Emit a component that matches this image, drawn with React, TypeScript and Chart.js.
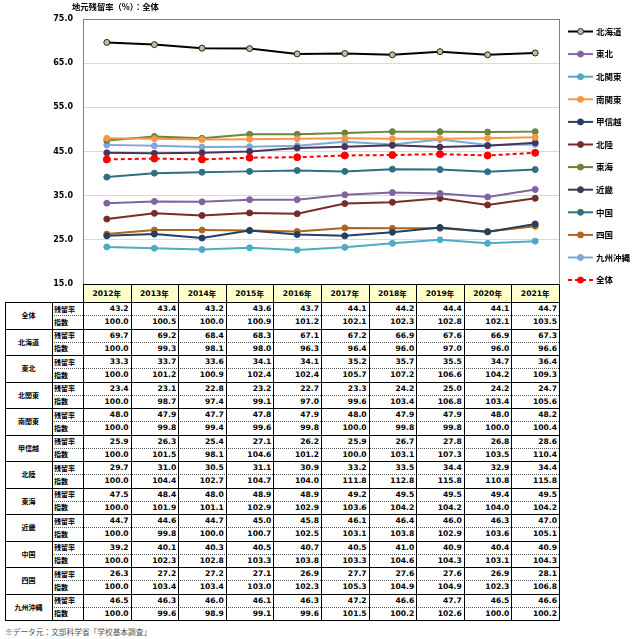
import React, { useEffect, useRef } from "react";
import { Chart, registerables } from "chart.js";
Chart.register(...registerables);

const years = ["2012年", "2013年", "2014年", "2015年", "2016年", "2017年", "2018年", "2019年", "2020年", "2021年"];

const rateAll = [43.2, 43.4, 43.2, 43.6, 43.7, 44.1, 44.2, 44.4, 44.1, 44.7];
const idxAll = [100.0, 100.5, 100.0, 100.9, 101.2, 102.1, 102.3, 102.8, 102.1, 103.5];
const rateHokkaido = [69.7, 69.2, 68.4, 68.3, 67.1, 67.2, 66.9, 67.6, 66.9, 67.3];
const idxHokkaido = [100.0, 99.3, 98.1, 98.0, 96.3, 96.4, 96.0, 97.0, 96.0, 96.6];
const rateTohoku = [33.3, 33.7, 33.6, 34.1, 34.1, 35.2, 35.7, 35.5, 34.7, 36.4];
const idxTohoku = [100.0, 101.2, 100.9, 102.4, 102.4, 105.7, 107.2, 106.6, 104.2, 109.3];
const rateKitaKanto = [23.4, 23.1, 22.8, 23.2, 22.7, 23.3, 24.2, 25.0, 24.2, 24.7];
const idxKitaKanto = [100.0, 98.7, 97.4, 99.1, 97.0, 99.6, 103.4, 106.8, 103.4, 105.6];
const rateMinamiKanto = [48.0, 47.9, 47.7, 47.8, 47.9, 48.0, 47.9, 47.9, 48.0, 48.2];
const idxMinamiKanto = [100.0, 99.8, 99.4, 99.6, 99.8, 100.0, 99.8, 99.8, 100.0, 100.4];
const rateKoshinetsu = [25.9, 26.3, 25.4, 27.1, 26.2, 25.9, 26.7, 27.8, 26.8, 28.6];
const idxKoshinetsu = [100.0, 101.5, 98.1, 104.6, 101.2, 100.0, 103.1, 107.3, 103.5, 110.4];
const rateHokuriku = [29.7, 31.0, 30.5, 31.1, 30.9, 33.2, 33.5, 34.4, 32.9, 34.4];
const idxHokuriku = [100.0, 104.4, 102.7, 104.7, 104.0, 111.8, 112.8, 115.8, 110.8, 115.8];
const rateTokai = [47.5, 48.4, 48.0, 48.9, 48.9, 49.2, 49.5, 49.5, 49.4, 49.5];
const idxTokai = [100.0, 101.9, 101.1, 102.9, 102.9, 103.6, 104.2, 104.2, 104.0, 104.2];
const rateKinki = [44.7, 44.6, 44.7, 45.0, 45.8, 46.1, 46.4, 46.0, 46.3, 47.0];
const idxKinki = [100.0, 99.8, 100.0, 100.7, 102.5, 103.1, 103.8, 102.9, 103.6, 105.1];
const rateChugoku = [39.2, 40.1, 40.3, 40.5, 40.7, 40.5, 41.0, 40.9, 40.4, 40.9];
const idxChugoku = [100.0, 102.3, 102.8, 103.3, 103.8, 103.3, 104.6, 104.3, 103.1, 104.3];
const rateShikoku = [26.3, 27.2, 27.2, 27.1, 26.9, 27.7, 27.6, 27.6, 26.9, 28.1];
const idxShikoku = [100.0, 103.4, 103.4, 103.0, 102.3, 105.3, 104.9, 104.9, 102.3, 106.8];
const rateKyushu = [46.5, 46.3, 46.0, 46.1, 46.3, 47.2, 46.6, 47.7, 46.5, 46.6];
const idxKyushu = [100.0, 99.6, 98.9, 99.1, 99.6, 101.5, 100.2, 102.6, 100.0, 100.2];

const rowLabels = ["残留率", "指数"];

const tableRegions = ["全体", "北海道", "東北", "北関東", "南関東", "甲信越", "北陸", "東海", "近畿", "中国", "四国", "九州沖縄"];
const tableRates = [rateAll, rateHokkaido, rateTohoku, rateKitaKanto, rateMinamiKanto, rateKoshinetsu, rateHokuriku, rateTokai, rateKinki, rateChugoku, rateShikoku, rateKyushu];
const tableIdx = [idxAll, idxHokkaido, idxTohoku, idxKitaKanto, idxMinamiKanto, idxKoshinetsu, idxHokuriku, idxTokai, idxKinki, idxChugoku, idxShikoku, idxKyushu];

const seriesNames = ["北海道", "東北", "北関東", "南関東", "甲信越", "北陸", "東海", "近畿", "中国", "四国", "九州沖縄", "全体"];
const seriesData = [rateHokkaido, rateTohoku, rateKitaKanto, rateMinamiKanto, rateKoshinetsu, rateHokuriku, rateTokai, rateKinki, rateChugoku, rateShikoku, rateKyushu, rateAll];
const seriesColors = ["#000000", "#8064A2", "#4BACC6", "#F79646", "#243F60", "#772C2A", "#6A8438", "#443659", "#2F6F80", "#B0641C", "#7FA7D9", "#FF0000"];

const PLOT_L = 83;
const PLOT_R = 559;
const COL_W = (PLOT_R - PLOT_L) / 10;
const HEAD_T = 284;
const BODY_T = 302;
const ROW_H = 13.25;

const legendPlugin = {
  id: "customLegendBorder",
  afterDraw(chart: any) {
    const ctx = chart.ctx;
    const a = chart.chartArea;
    ctx.save();
    ctx.strokeStyle = "#808080";
    ctx.lineWidth = 1;
    ctx.strokeRect(Math.round(a.left) + 0.5, Math.round(a.top) + 0.5, Math.round(a.right - a.left), Math.round(a.bottom - a.top));
    chart.data.datasets.forEach((ds: any, i: number) => {
      const y = 31.5 + i * 22.6;
      ctx.strokeStyle = ds.borderColor;
      ctx.lineWidth = 2;
      ctx.setLineDash(ds.borderDash || []);
      ctx.beginPath();
      ctx.moveTo(568, y);
      ctx.lineTo(593, y);
      ctx.stroke();
      ctx.setLineDash([]);
      ctx.beginPath();
      ctx.arc(580.5, y, 3, 0, Math.PI * 2);
      ctx.fillStyle = ds.pointBackgroundColor;
      ctx.fill();
      ctx.lineWidth = 1;
      ctx.strokeStyle = ds.pointBorderColor;
      ctx.stroke();
      ctx.fillStyle = "#000";
      ctx.font = "bold 8.5px 'Noto Sans CJK JP'";
      ctx.textBaseline = "middle";
      ctx.textAlign = "left";
      ctx.fillText(ds.label, 596, y);
    });
    ctx.restore();
  },
};

function ChartCanvas() {
  const ref = useRef<HTMLCanvasElement>(null);
  useEffect(() => {
    if (!ref.current) return;
    const datasets = seriesNames.map((name, i) => {
      const c = seriesColors[i];
      const isAll = name === "全体";
      const isHok = name === "北海道";
      return {
        label: name,
        data: seriesData[i],
        borderColor: c,
        backgroundColor: c,
        borderWidth: 2,
        borderDash: isAll ? [4, 3] : [],
        pointRadius: isAll ? 3.5 : 3,
        pointBackgroundColor: isHok ? "#C4BD97" : c,
        pointBorderColor: isHok ? "#222" : c,
        pointBorderWidth: 1,
        tension: 0,
        order: isAll ? 0 : 1,
      };
    });
    const chart = new Chart(ref.current, {
      type: "line",
      data: { labels: years, datasets },
      options: {
        animation: false,
        responsive: false,
        devicePixelRatio: 1,
        layout: { padding: { left: 0, right: 640 - PLOT_R, top: 19, bottom: 16 } },
        plugins: { legend: { display: false }, tooltip: { enabled: false } },
        scales: {
          x: { display: false, offset: true, grid: { display: false } },
          y: {
            min: 15,
            max: 75,
            ticks: {
              stepSize: 10,
              callback: (v: any) => Number(v).toFixed(1),
              font: { family: "'DejaVu Sans'", size: 8, weight: "bold" },
              color: "#000",
              padding: 10,
            },
            grid: { color: "#d9d9d9", drawTicks: false },
            border: { color: "#808080" },
            afterFit: (s: any) => {
              s.width = PLOT_L;
            },
          },
        },
      } as any,
      plugins: [legendPlugin],
    });
    return () => chart.destroy();
  }, []);
  return <canvas ref={ref} width={640} height={300} style={{ position: "absolute", left: 0, top: 0, width: 640, height: 300 }} />;
}

const numFont = "'DejaVu Sans', Verdana, sans-serif";
const jpFont = "'Noto Sans CJK JP', sans-serif";

function Table() {
  const els: any[] = [];
  years.forEach((y, i) => {
    els.push(
      <div key={"h" + i} style={{ position: "absolute", left: PLOT_L + i * COL_W, top: HEAD_T, width: COL_W, height: BODY_T - HEAD_T, background: "#FFFFCC", display: "flex", alignItems: "center", justifyContent: "center", font: `bold 7.6px ${numFont}`, color: "#000" }}>
        {y.replace("年", "")}
        <span style={{ fontFamily: jpFont, fontSize: 7.5 }}>年</span>
      </div>
    );
  });
  const bodyB = BODY_T + tableRegions.length * 2 * ROW_H;
  tableRegions.forEach((r, ri) => {
    const top = BODY_T + ri * 2 * ROW_H;
    els.push(
      <div key={"r" + ri} style={{ position: "absolute", left: 5, top, width: 47, height: 2 * ROW_H, display: "flex", alignItems: "center", justifyContent: "center", font: `bold 7px ${jpFont}`, color: "#000" }}>
        {r}
      </div>
    );
    [tableRates[ri], tableIdx[ri]].forEach((arr, k) => {
      const t = top + k * ROW_H;
      els.push(
        <div key={"s" + ri + "_" + k} style={{ position: "absolute", left: 54, top: t, width: 29, height: ROW_H, display: "flex", alignItems: "center", font: `bold 7px ${jpFont}`, color: "#000" }}>
          {rowLabels[k]}
        </div>
      );
      arr.forEach((v, ci) => {
        els.push(
          <div key={"c" + ri + "_" + k + "_" + ci} style={{ position: "absolute", left: PLOT_L + ci * COL_W, top: t, width: COL_W - 2, height: ROW_H, display: "flex", alignItems: "center", justifyContent: "flex-end", font: `bold 7.6px ${numFont}`, color: "#000" }}>
            {v.toFixed(1)}
          </div>
        );
      });
      const lineY = t + ROW_H;
      if (k === 0) {
        els.push(<div key={"dl" + ri} style={{ position: "absolute", left: 52, top: lineY, width: PLOT_R - 52, height: 0, borderTop: "1px dotted #555" }} />);
      } else {
        els.push(<div key={"sl" + ri} style={{ position: "absolute", left: 5, top: lineY, width: PLOT_R - 5, height: 1, background: "#000" }} />);
      }
    });
  });
  els.push(<div key="ht" style={{ position: "absolute", left: PLOT_L, top: HEAD_T, width: PLOT_R - PLOT_L, height: 1, background: "#000" }} />);
  els.push(<div key="bt" style={{ position: "absolute", left: 5, top: BODY_T, width: PLOT_R - 5, height: 1, background: "#000" }} />);
  els.push(<div key="v0" style={{ position: "absolute", left: 5, top: BODY_T, width: 1, height: bodyB - BODY_T + 1, background: "#000" }} />);
  els.push(<div key="v1" style={{ position: "absolute", left: 52, top: BODY_T, width: 1, height: bodyB - BODY_T + 1, background: "#000" }} />);
  for (let i = 0; i <= 10; i++) {
    els.push(<div key={"vc" + i} style={{ position: "absolute", left: Math.round(PLOT_L + i * COL_W), top: HEAD_T, width: 1, height: bodyB - HEAD_T + 1, background: "#000" }} />);
  }
  return <>{els}</>;
}

export default function App() {
  return (
    <div style={{ position: "absolute", left: 0, top: 0, width: 640, height: 639, background: "#fff", overflow: "hidden" }}>
      <ChartCanvas />
      <div style={{ position: "absolute", left: 72, top: 0, font: `bold 8.3px ${jpFont}`, color: "#000", whiteSpace: "nowrap", lineHeight: "12px" }}>
        地元残留率（%）：全体
      </div>
      <Table />
      <div style={{ position: "absolute", left: 5, top: 626, font: `7.7px ${jpFont}`, color: "#555", whiteSpace: "nowrap", lineHeight: "12px" }}>
        ※データ元：文部科学省「学校基本調査」
      </div>
    </div>
  );
}
